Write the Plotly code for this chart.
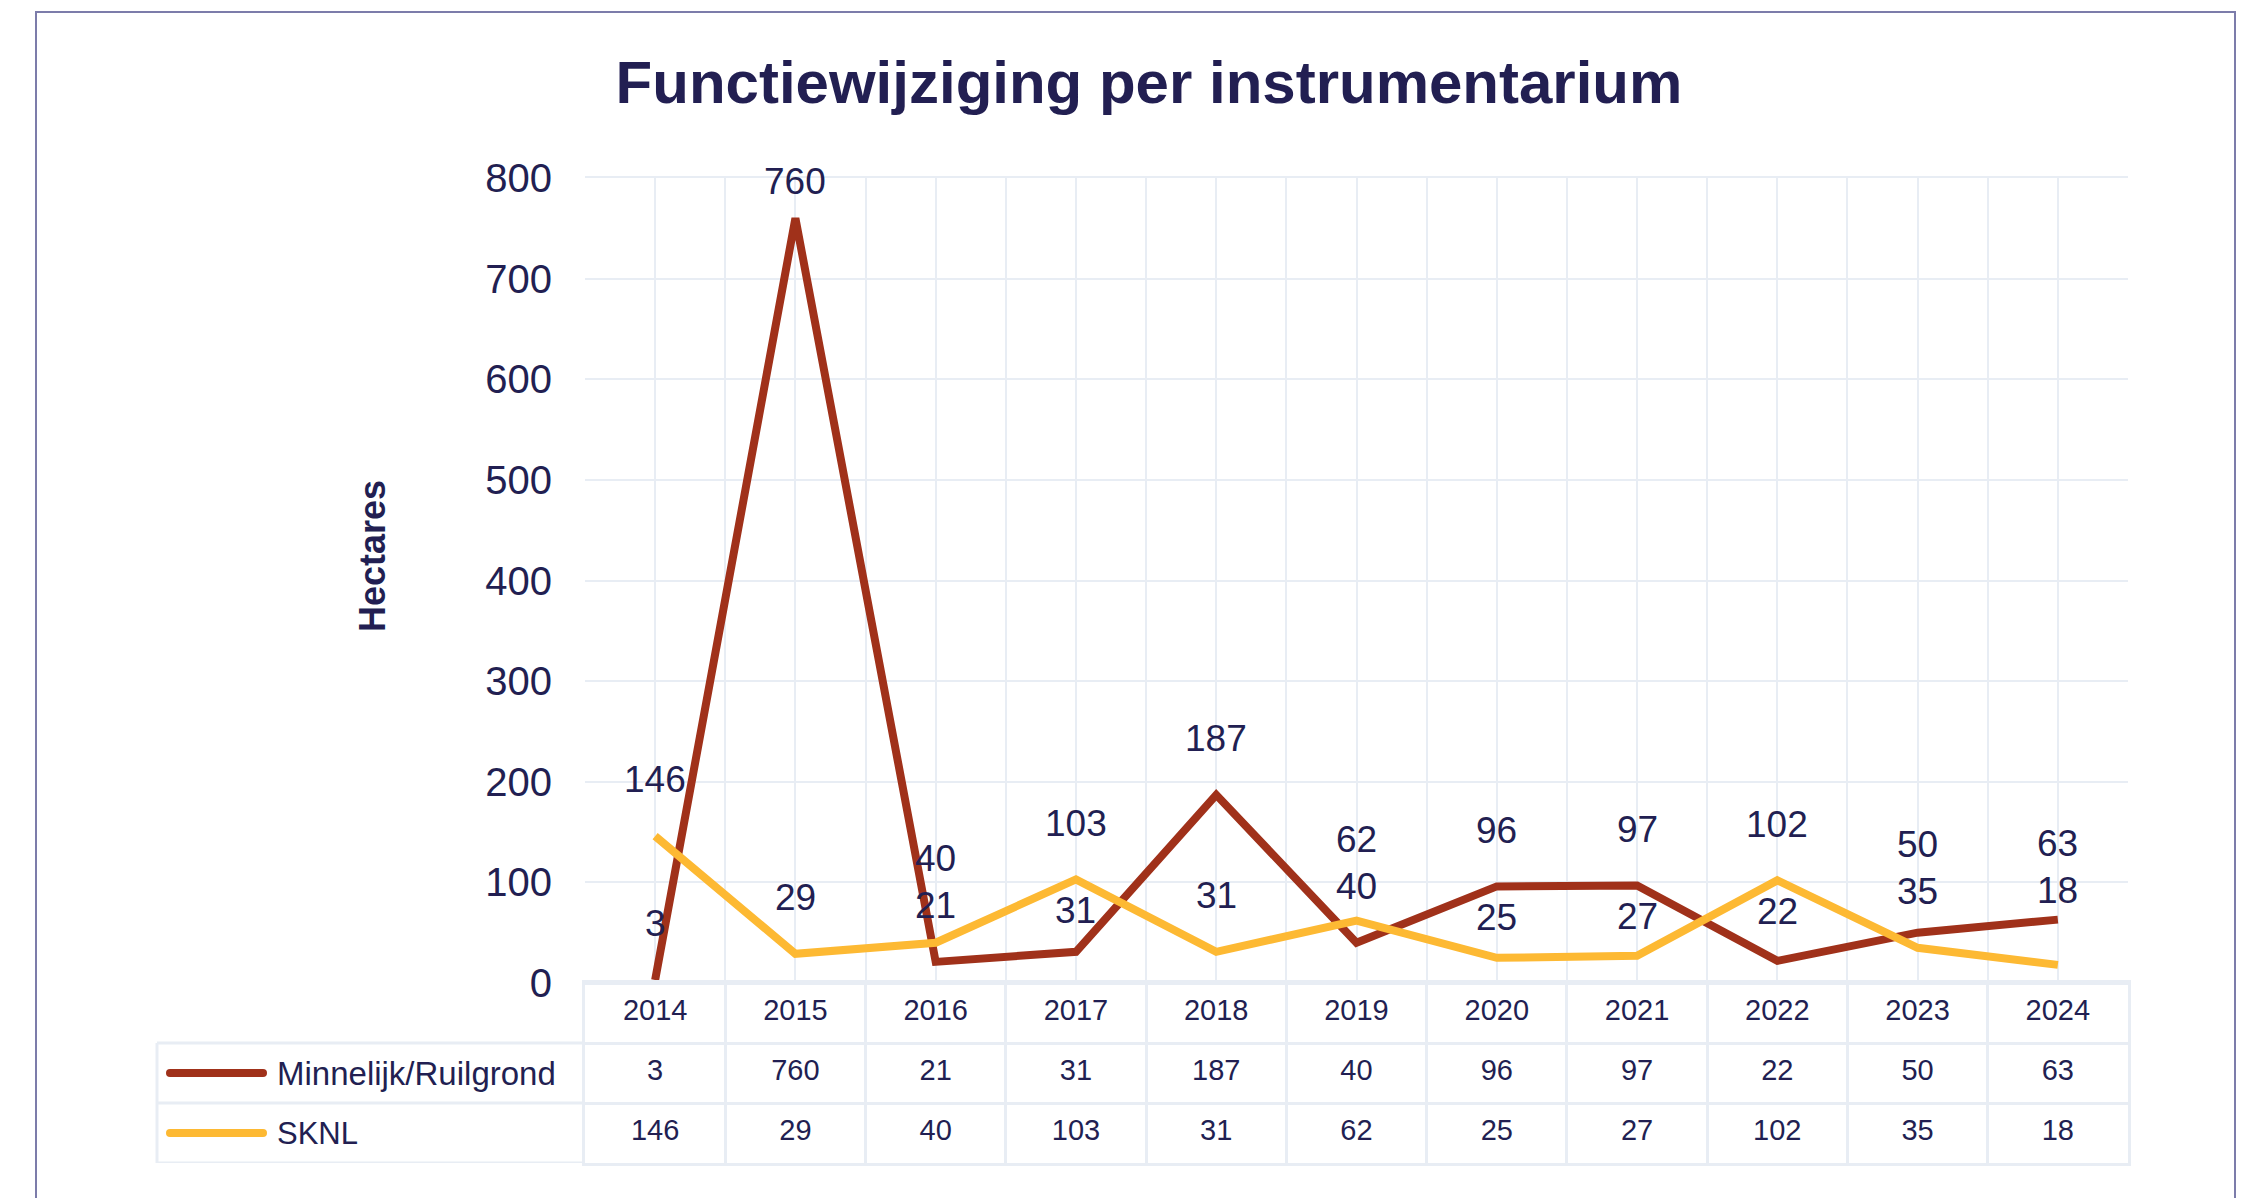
import plotly.graph_objects as go

# ---------------- data ----------------
years = [2014, 2015, 2016, 2017, 2018, 2019, 2020, 2021, 2022, 2023, 2024]
series_names = ["Minnelijk/Ruilgrond", "SKNL"]
minnelijk = [3, 760, 21, 31, 187, 40, 96, 97, 22, 50, 63]
sknl = [146, 29, 40, 103, 31, 62, 25, 27, 102, 35, 18]
y_ticks = [0, 100, 200, 300, 400, 500, 600, 700, 800]
title_text = "Functiewijziging per instrumentarium"
y_title = "Hectares"

# ---------------- style ----------------
W, H = 2249, 1198
NAVY = "#221f52"
GRID = "#e8edf4"
RED = "#a0311a"
YELLOW = "#fdb933"
FRAME = "#7c7caa"
FONT = "Liberation Sans, Arial, sans-serif"
colors = [RED, YELLOW]
values = [minnelijk, sknl]

def px_x(p):
    return p / W

def px_y(p):
    return 1 - p / H

PLOT_L, PLOT_R = 585, 2128
PLOT_T, PLOT_B = 178, 983
TABLE_B = 1163

fig = go.Figure()

# main lines
for name, vals, col in zip(series_names, values, colors):
    fig.add_trace(go.Scatter(
        x=years, y=vals, mode="lines", name=name,
        line=dict(color=col, width=8, shape="linear"),
        hoverinfo="skip", showlegend=False, xaxis="x", yaxis="y",
        cliponaxis=False,
    ))

# data labels with simple overlap avoidance (offsets in axis units)
ymax = y_ticks[-1]
annotations = []
OFFSET, GAP, LINE_CLEAR, BELOW, ABOVE, OWN_CLEAR = 56, 47, 30, 31, 29, 25
for i, yr in enumerate(years):
    lo, hi = sorted([minnelijk[i], sknl[i]])
    lo_c = lo + OFFSET
    if abs(lo_c - hi) < LINE_CLEAR:
        down = hi - BELOW
        lo_c = down if down - lo >= OWN_CLEAR else hi + ABOVE
    hi_c = max(hi + OFFSET, lo_c + GAP)
    hi_c = min(hi_c, ymax - 3)
    for v, c in ((lo, lo_c), (hi, hi_c)):
        annotations.append(dict(
            x=yr, y=c, xref="x", yref="y", text=str(v), showarrow=False,
            xanchor="center", yanchor="middle",
            font=dict(family=FONT, size=37, color=NAVY),
        ))

# table: header (years) and rows
fig.add_trace(go.Scatter(
    x=years, y=[2.5] * len(years), mode="text", text=[str(y) for y in years],
    textfont=dict(family=FONT, size=29, color=NAVY), hoverinfo="skip",
    showlegend=False, xaxis="x2", yaxis="y2",
))
for r, vals in zip([1.5, 0.5], values):
    fig.add_trace(go.Scatter(
        x=years, y=[r] * len(years), mode="text", text=[str(v) for v in vals],
        textfont=dict(family=FONT, size=29, color=NAVY), hoverinfo="skip",
        showlegend=False, xaxis="x2", yaxis="y2",
    ))

shapes = []
# left column of table
LEFT = 157
for yy in [0, 1, 2]:
    shapes.append(dict(type="line", xref="paper", yref="y2",
                       x0=px_x(LEFT), x1=px_x(PLOT_L), y0=yy, y1=yy,
                       line=dict(color=GRID, width=3), layer="below"))
shapes.append(dict(type="line", xref="paper", yref="y2",
                   x0=px_x(LEFT), x1=px_x(LEFT), y0=0, y1=2,
                   line=dict(color=GRID, width=3), layer="below"))
# legend keys
KEY_L, KEY_R = 170, 263
for r, name, col in zip([1.5, 0.5], series_names, colors):
    shapes.append(dict(type="line", xref="paper", yref="y2",
                       x0=px_x(KEY_L), x1=px_x(KEY_R), y0=r, y1=r,
                       line=dict(color=col, width=8)))
    for kx in (KEY_L, KEY_R):
        shapes.append(dict(type="circle", xref="paper", yref="y2",
                           xsizemode="pixel", ysizemode="pixel",
                           xanchor=px_x(kx), yanchor=r,
                           x0=-4, x1=4, y0=-4, y1=4,
                           fillcolor=col, line=dict(width=0)))
    annotations.append(dict(
        x=px_x(275), y=r, xref="paper", yref="y2", text=name, showarrow=False,
        xanchor="left", yanchor="middle",
        font=dict(family=FONT, size=31 if name == "SKNL" else 33, color=NAVY),
    ))

# outer frame
shapes.append(dict(type="rect", xref="paper", yref="paper",
                   x0=px_x(36), x1=px_x(2235), y0=-0.2, y1=px_y(12),
                   line=dict(color=FRAME, width=2), fillcolor="rgba(0,0,0,0)"))

# y axis title
annotations.append(dict(
    x=px_x(373), y=px_y(556), xref="paper", yref="paper", text="<b>" + y_title + "</b>",
    showarrow=False, textangle=-90, xanchor="center", yanchor="middle",
    font=dict(family=FONT, size=36, color=NAVY),
))

bounds = [y - 0.5 for y in years] + [years[-1] + 0.5]
xr = [years[0] - 0.5, years[-1] + 0.5]

fig.update_layout(
    width=W, height=H, autosize=False,
    margin=dict(l=0, r=0, t=0, b=0, pad=0, autoexpand=False),
    paper_bgcolor="white", plot_bgcolor="white",
    title=dict(text="<b>" + title_text + "</b>", x=px_x(1149), xref="paper",
               xanchor="center", y=px_y(82), yref="paper", yanchor="middle",
               font=dict(family=FONT, size=60, color=NAVY)),
    xaxis=dict(domain=[px_x(PLOT_L), px_x(PLOT_R)], range=xr,
               tickmode="array", tickvals=years, showticklabels=False,
               showgrid=True, gridcolor=GRID, gridwidth=2,
               minor=dict(tickmode="array", tickvals=bounds, showgrid=True,
                          gridcolor=GRID, gridwidth=2),
               showline=True, mirror=True, linecolor=GRID, linewidth=2,
               zeroline=False, fixedrange=True, anchor="y"),
    yaxis=dict(domain=[px_y(PLOT_B), px_y(PLOT_T)], range=[0, ymax],
               tickmode="array", tickvals=y_ticks, showgrid=True,
               gridcolor=GRID, gridwidth=2, zeroline=True, zerolinecolor=GRID,
               zerolinewidth=3, ticks="outside", ticklen=24,
               tickcolor="rgba(0,0,0,0)",
               tickfont=dict(family=FONT, size=40, color=NAVY),
               showline=False, fixedrange=True, anchor="x"),
    xaxis2=dict(domain=[px_x(PLOT_L), px_x(PLOT_R)], range=xr, matches="x",
                tickmode="array", tickvals=bounds, showticklabels=False,
                showgrid=True, gridcolor=GRID, gridwidth=3,
                showline=True, mirror=True, linecolor=GRID, linewidth=3,
                zeroline=False, fixedrange=True, anchor="y2"),
    yaxis2=dict(domain=[px_y(TABLE_B), px_y(PLOT_B)], range=[0, 3],
                tickmode="array", tickvals=[0, 1, 2, 3], showticklabels=False,
                showgrid=True, gridcolor=GRID, gridwidth=3,
                showline=True, mirror=True, linecolor=GRID, linewidth=3,
                zeroline=False, fixedrange=True, anchor="x2"),
    shapes=shapes,
    annotations=annotations,
    showlegend=False,
    hovermode=False,
)

fig.write_html(
    "out.html",
    config={"displayModeBar": False, "responsive": False},
    default_width="2249px",
    default_height="1198px",
    post_script="document.body.style.margin='0';document.body.style.overflow='hidden';",
)
